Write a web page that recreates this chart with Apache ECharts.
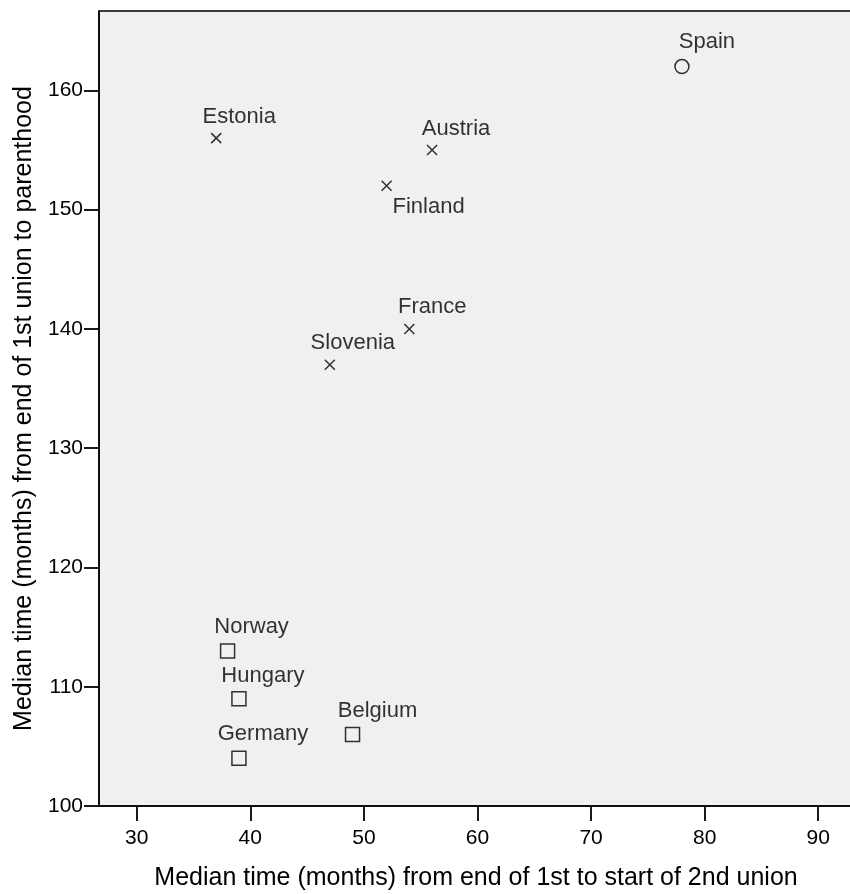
<!DOCTYPE html>
<html>
<head>
<meta charset="utf-8">
<script src="https://cdn.jsdelivr.net/npm/echarts@6/dist/echarts.min.js"></script>
<style>html,body{margin:0;padding:0;background:#fff}#c{width:850px;height:894px}</style>
</head>
<body>
<div id="c"></div>
<script>
// Data
var crossNames = ['Estonia', 'Austria', 'Finland', 'France', 'Slovenia'];
var crossX = [37, 56, 52, 54, 47];
var crossY = [156, 155, 152, 140, 137];

var squareNames = ['Norway', 'Hungary', 'Germany', 'Belgium'];
var squareX = [38, 39, 39, 49];
var squareY = [113, 109, 104, 106];

var circleNames = ['Spain'];
var circleX = [78];
var circleY = [162];

var xTicks = [30, 40, 50, 60, 70, 80, 90];
var yTicks = [100, 110, 120, 130, 140, 150, 160];

var xTitle = 'Median time (months) from end of 1st to start of 2nd union';
var yTitle = 'Median time (months) from end of 1st union to parenthood';

// label placement (style, not data)
var labelOffset = {
  Estonia: [23, -21], Austria: [24, -21], Finland: [42, 21], France: [23, -22],
  Slovenia: [23, -22], Norway: [24, -24], Hungary: [24, -23], Germany: [24, -24],
  Belgium: [25, -24], Spain: [25, -25]
};

function build(names, xs, ys) {
  return names.map(function (n, i) {
    return { name: n, value: [xs[i], ys[i]], label: { offset: labelOffset[n] } };
  });
}

var FONT = '"Liberation Sans", Arial, sans-serif';
var labelStyle = {
  show: true, position: 'inside', formatter: '{b}',
  color: '#000', fontSize: 22, fontFamily: FONT
};

var chart = echarts.init(document.getElementById('c'), null, { renderer: 'canvas' });
chart.setOption({
  backgroundColor: '#ffffff',
  animation: false,
  grid: {
    left: 99, right: -3, top: 11, bottom: 88,
    outerBoundsMode: 'none', containLabel: false,
    show: true, backgroundColor: '#f0f0f0', borderColor: '#000', borderWidth: 1.5
  },
  xAxis: {
    type: 'value', min: 26.68, max: 93.06,
    name: xTitle, nameLocation: 'middle', nameGap: 60,
    nameTextStyle: { fontSize: 25, fontFamily: FONT, color: '#000' },
    axisLine: { show: true, lineStyle: { color: '#000', width: 1.5 } },
    axisTick: { show: true, length: 15, customValues: xTicks, lineStyle: { color: '#000', width: 1.8 } },
    axisLabel: { customValues: xTicks, fontSize: 21, fontFamily: FONT, color: '#000', margin: 22 },
    splitLine: { show: false }
  },
  yAxis: {
    type: 'value', min: 100, max: 166.66,
    name: yTitle, nameLocation: 'middle', nameGap: 61,
    nameTextStyle: { fontSize: 25, fontFamily: FONT, color: '#000' },
    axisLine: { show: true, lineStyle: { color: '#000', width: 1.5 } },
    axisTick: { show: true, length: 15, customValues: yTicks, lineStyle: { color: '#000', width: 1.8 } },
    axisLabel: { customValues: yTicks, fontSize: 21, fontFamily: FONT, color: '#000', margin: 16 },
    splitLine: { show: false }
  },
  series: [
    {
      type: 'scatter', name: 'cross',
      symbol: 'path://M0,0L10,10M10,0L0,10', symbolSize: 10,
      itemStyle: { color: 'none', borderColor: '#000', borderWidth: 1.5 },
      label: labelStyle,
      data: build(crossNames, crossX, crossY)
    },
    {
      type: 'scatter', name: 'square',
      symbol: 'rect', symbolSize: 14,
      itemStyle: { color: 'none', borderColor: '#000', borderWidth: 1.5 },
      label: labelStyle,
      data: build(squareNames, squareX, squareY)
    },
    {
      type: 'scatter', name: 'circle',
      symbol: 'circle', symbolSize: 14,
      itemStyle: { color: 'none', borderColor: '#000', borderWidth: 1.5 },
      label: labelStyle,
      data: build(circleNames, circleX, circleY)
    }
  ]
});
</script>
</body>
</html>
